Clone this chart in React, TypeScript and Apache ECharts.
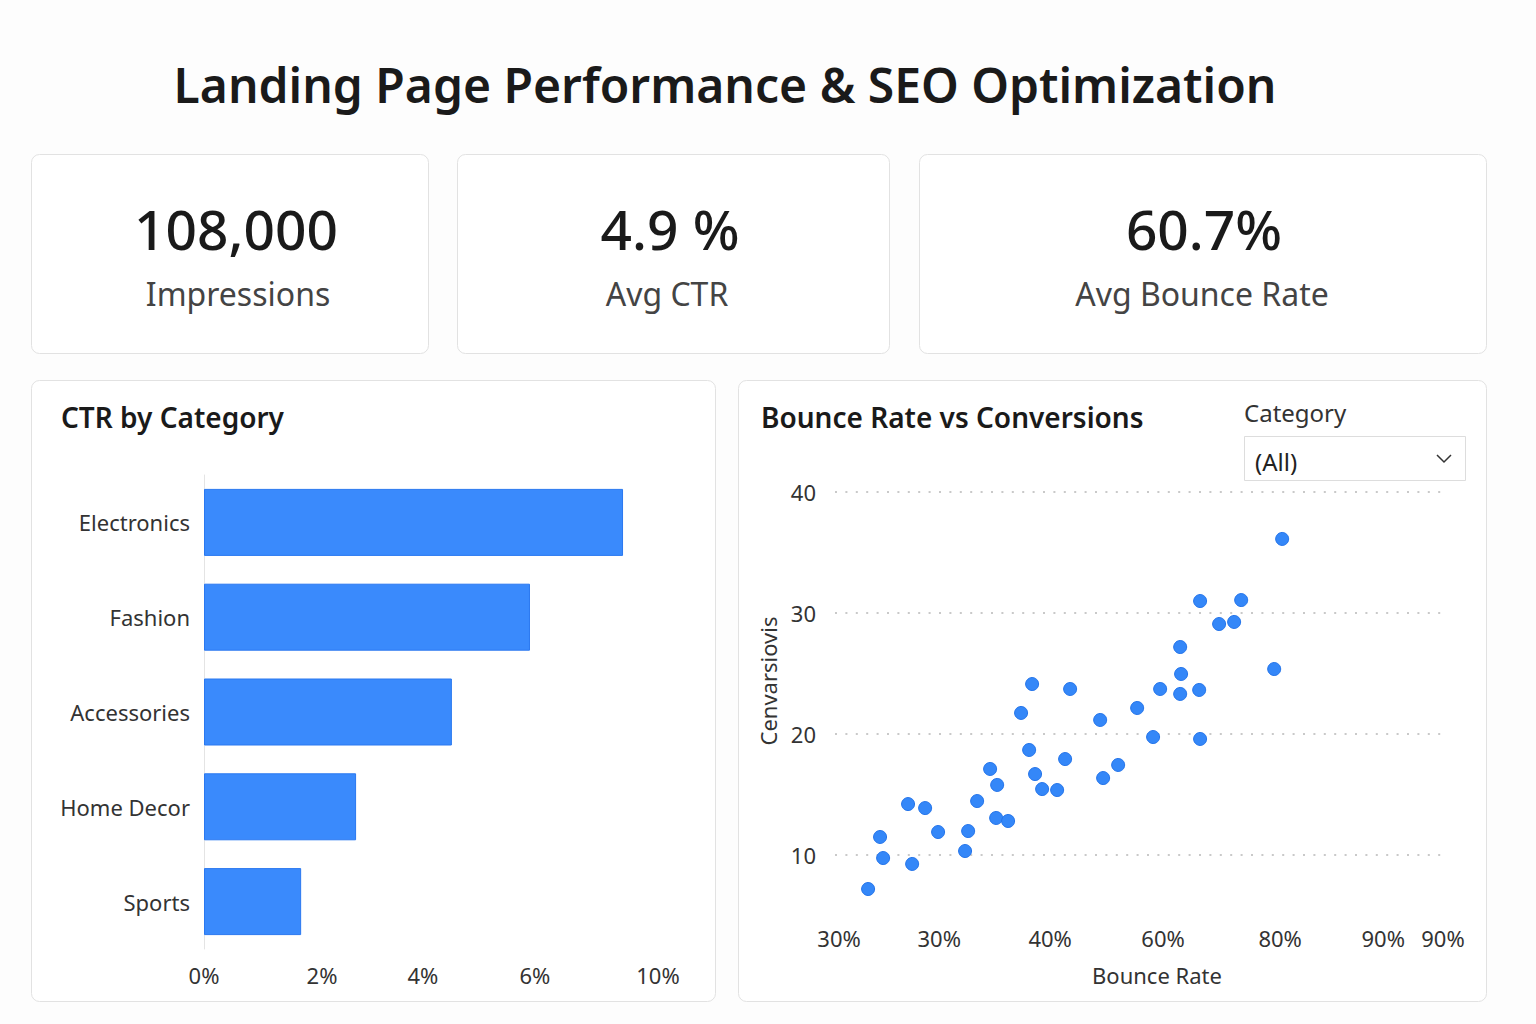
import React, { useEffect, useRef } from "react";
import * as echarts from "echarts";

const FONT = "'Noto Sans', 'Open Sans', sans-serif";

const pageTitle = "Landing Page Performance & SEO Optimization";
const kpiValues = ["108,000", "4.9 %", "60.7%"];
const kpiLabels = ["Impressions", "Avg CTR", "Avg Bounce Rate"];

const barCategories = ["Electronics", "Fashion", "Accessories", "Home Decor", "Sports"];
const barValues = [9.23, 7.18, 5.46, 3.35, 2.14];
const barTickValues = [0, 2.6, 4.82, 7.29, 10];
const barTickLabels = ["0%", "2%", "4%", "6%", "10%"];

const scatterX = [
  32.84, 34.01, 34.31, 36.75, 37.15, 38.42, 39.69, 42.33, 42.63, 43.51,
  44.78, 45.47, 45.37, 46.54, 47.81, 48.89, 48.6, 49.18, 49.87, 51.34,
  52.12, 52.61, 55.55, 55.84, 57.31, 59.17, 60.73, 61.42, 63.38, 63.47,
  63.38, 65.24, 65.33, 65.33, 67.19, 68.66, 69.35, 72.58, 73.36,
];
const scatterY = [
  7.19, 11.49, 9.75, 14.21, 9.26, 13.88, 11.9, 10.33, 11.98, 14.46,
  17.11, 15.79, 13.06, 12.81, 21.74, 24.13, 18.68, 16.69, 15.45, 15.37,
  17.93, 23.72, 21.16, 16.36, 17.44, 22.15, 19.75, 23.72, 27.19, 24.96,
  23.31, 23.64, 30.99, 19.59, 29.09, 29.26, 31.07, 25.37, 36.12,
];
const scatterTickValues = [30, 39.8, 50.65, 61.7, 73.16, 83.25, 89.1];
const scatterTickLabels = ["30%", "30%", "40%", "60%", "80%", "90%", "90%"];
const yTicks = [0, 10, 20, 30, 40];

const nearestLabel = (v: number, vals: number[], labels: string[]) => {
  let best = 0;
  for (let i = 1; i < vals.length; i++) {
    if (Math.abs(vals[i] - v) < Math.abs(vals[best] - v)) best = i;
  }
  return labels[best];
};

export default function App() {
  const ref = useRef<HTMLDivElement>(null);
  useEffect(() => {
    if (!ref.current) return;
    const chart = echarts.init(ref.current, undefined, { renderer: "svg" });

    const cards = [
      { x: 31, w: 397 },
      { x: 457, w: 432 },
      { x: 919, w: 567 },
    ];
    const kpiCenters = [236, 670, 1204];
    const labelCenters = [238, 667, 1202];

    const graphics: any[] = [];
    cards.forEach((c) => {
      graphics.push({
        type: "rect",
        z: -1,
        shape: { x: c.x + 0.5, y: 154.5, width: c.w, height: 199, r: 8 },
        style: { fill: "#ffffff", stroke: "#e2e2e2", lineWidth: 1 },
      });
    });
    graphics.push({
      type: "rect",
      z: -1,
      shape: { x: 31.5, y: 380.5, width: 684, height: 621, r: 8 },
      style: { fill: "#ffffff", stroke: "#e2e2e2", lineWidth: 1 },
    });
    graphics.push({
      type: "rect",
      z: -1,
      shape: { x: 738.5, y: 380.5, width: 748, height: 621, r: 8 },
      style: { fill: "#ffffff", stroke: "#e2e2e2", lineWidth: 1 },
    });
    graphics.push({
      type: "text",
      x: 725,
      y: 84,
      style: {
        text: pageTitle,
        fill: "#1a1a1a",
        fontFamily: FONT,
        fontSize: 48,
        fontWeight: 600,
        textAlign: "center",
        textVerticalAlign: "middle",
      },
    });
    kpiValues.forEach((v, i) => {
      graphics.push({
        type: "text",
        x: kpiCenters[i],
        y: 228,
        style: {
          text: v,
          fill: "#1a1a1a",
          fontFamily: FONT,
          fontSize: 55,
          fontWeight: 500,
          textAlign: "center",
          textVerticalAlign: "middle",
        },
      });
      graphics.push({
        type: "text",
        x: labelCenters[i],
        y: 293,
        style: {
          text: kpiLabels[i],
          fill: "#444444",
          fontFamily: FONT,
          fontSize: 32,
          textAlign: "center",
          textVerticalAlign: "middle",
        },
      });
    });
    graphics.push({
      type: "text",
      x: 61,
      y: 417,
      style: {
        text: "CTR by Category",
        fill: "#1a1a1a",
        fontFamily: FONT,
        fontSize: 28,
        fontWeight: 600,
        textAlign: "left",
        textVerticalAlign: "middle",
      },
    });
    graphics.push({
      type: "text",
      x: 761,
      y: 417,
      style: {
        text: "Bounce Rate vs Conversions",
        fill: "#1a1a1a",
        fontFamily: FONT,
        fontSize: 28,
        fontWeight: 600,
        textAlign: "left",
        textVerticalAlign: "middle",
      },
    });
    graphics.push({
      type: "text",
      x: 1244,
      y: 412,
      style: {
        text: "Category",
        fill: "#333333",
        fontFamily: FONT,
        fontSize: 24,
        textAlign: "left",
        textVerticalAlign: "middle",
      },
    });
    graphics.push({
      type: "rect",
      shape: { x: 1244.5, y: 436.5, width: 221, height: 44 },
      style: { fill: "#ffffff", stroke: "#dddddd", lineWidth: 1 },
    });
    graphics.push({
      type: "text",
      x: 1255,
      y: 461,
      style: {
        text: "(All)",
        fill: "#222222",
        fontFamily: FONT,
        fontSize: 24,
        textAlign: "left",
        textVerticalAlign: "middle",
      },
    });
    graphics.push({
      type: "polyline",
      shape: { points: [[1437, 455], [1444, 462], [1451, 455]] },
      style: { stroke: "#333333", lineWidth: 1.5, fill: "none" },
    });
    graphics.push({
      type: "text",
      x: 1157,
      y: 975,
      style: {
        text: "Bounce Rate",
        fill: "#333333",
        fontFamily: FONT,
        fontSize: 22,
        textAlign: "center",
        textVerticalAlign: "middle",
      },
    });
    graphics.push({
      type: "text",
      x: 768,
      y: 681,
      rotation: Math.PI / 2,
      style: {
        text: "Cenvarsiovis",
        fill: "#333333",
        fontFamily: FONT,
        fontSize: 22,
        textAlign: "center",
        textVerticalAlign: "middle",
      },
    });

    chart.setOption({
      animation: false,
      backgroundColor: "#fdfdfd",
      textStyle: { fontFamily: FONT },
      graphic: graphics,
      grid: [
        { left: 204, top: 475, width: 454, height: 474 },
        { left: 835, top: 492, width: 608, height: 484 },
      ],
      xAxis: [
        {
          type: "value",
          gridIndex: 0,
          min: 0,
          max: 10,
          axisLine: { show: false },
          axisTick: { show: false },
          splitLine: { show: false },
          axisLabel: {
            customValues: barTickValues,
            formatter: (v: number) => nearestLabel(v, barTickValues, barTickLabels),
            color: "#333333",
            fontSize: 22,
            margin: 15,
            fontFamily: FONT,
          },
        },
        {
          type: "value",
          gridIndex: 1,
          min: 29.6,
          max: 89.1,
          axisLine: { show: false },
          axisTick: { show: false },
          splitLine: { show: false },
          axisLabel: {
            customValues: scatterTickValues,
            formatter: (v: number) => nearestLabel(v, scatterTickValues, scatterTickLabels),
            color: "#333333",
            fontSize: 22,
            margin: -49,
            fontFamily: FONT,
          },
        },
      ],
      yAxis: [
        {
          type: "category",
          gridIndex: 0,
          data: barCategories,
          inverse: true,
          axisLine: { show: true, lineStyle: { color: "#e4e4e4", width: 1 } },
          axisTick: { show: false },
          axisLabel: { color: "#333333", fontSize: 22, margin: 14, fontFamily: FONT },
        },
        {
          type: "value",
          gridIndex: 1,
          min: yTicks[0],
          max: yTicks[yTicks.length - 1],
          interval: 10,
          axisLine: { show: false },
          axisTick: { show: false },
          splitLine: {
            show: true,
            showMinLine: false,
            lineStyle: { color: "#c9c9c9", width: 2, type: [2, 8.4] },
          },
          axisLabel: {
            formatter: (v: number) => (v === 0 ? "" : String(v)),
            color: "#333333",
            fontSize: 22,
            margin: 19,
            fontFamily: FONT,
          },
        },
      ],
      series: [
        {
          type: "bar",
          xAxisIndex: 0,
          yAxisIndex: 0,
          data: barValues,
          barWidth: 67,
          itemStyle: { color: "#3a8afc", borderColor: "#2a78f0", borderWidth: 1 },
        },
        {
          type: "scatter",
          xAxisIndex: 1,
          yAxisIndex: 1,
          data: scatterX.map((x, i) => [x, scatterY[i]]),
          symbolSize: 13,
          itemStyle: { color: "#3487f8", borderColor: "#2474ea", borderWidth: 1, opacity: 1 },
        },
      ],
    });
    return () => chart.dispose();
  }, []);
  return (
    <div
      ref={ref}
      style={{ position: "absolute", left: 0, top: 0, width: 1536, height: 1024 }}
    />
  );
}
